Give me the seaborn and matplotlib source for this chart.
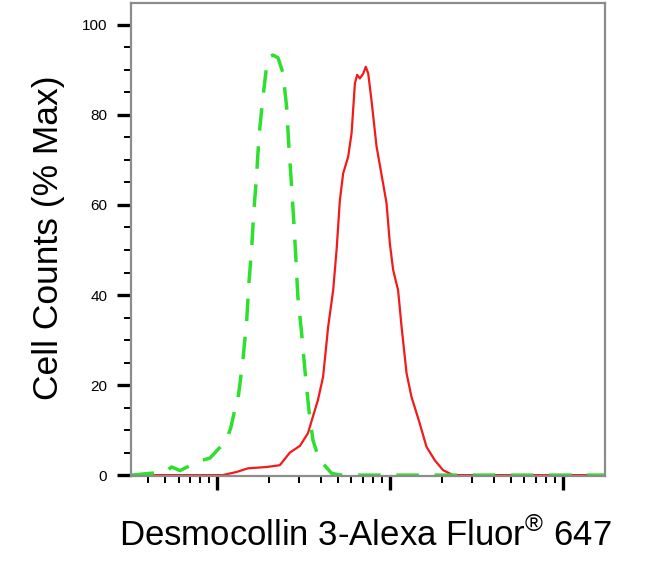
import numpy as np
import pandas as pd
import seaborn as sns
import matplotlib.pyplot as plt
from matplotlib.ticker import LogLocator, NullFormatter, MultipleLocator

# isotype / unstained control (green dashed)
ctrl_x = [32, 50, 54.7, 57.1, 61.1, 77.6, 91.2, 112.7, 120, 128.8, 132.1, 141.3, 148.6,
          153.1, 158.9, 163.7, 169.8, 175, 183.7, 193.6, 202.3, 210.9, 225.4, 241,
          252.9, 260.6, 270.4, 278.6, 286.4, 293.8, 309, 322.8, 340.4, 358.9, 393.6,
          410.2, 460.3, 520, 17500]
ctrl_y = [0, 0.7, 1.8, 1.5, 1.0, 3.0, 3.8, 7.6, 10.4, 15.6, 16.7, 25.5, 34.4,
          42.7, 50.7, 58.9, 67, 75.2, 83.3, 90.7, 93, 93.3, 92.7, 89.3,
          81.8, 73, 64, 56, 47.8, 39.6, 31.5, 23.3, 14.4, 7.8, 3.0,
          2.6, 0.4, 0, 0]

# Desmocollin 3 stained sample (red solid)
dsc3_x = [32, 108, 130, 151, 194, 231, 264, 302, 336, 359, 384, 411, 440, 470, 492,
          514, 537, 574, 601, 628, 647, 671, 702, 726, 750, 783, 838, 914, 957, 1000,
          1045, 1117, 1169, 1250, 1334, 1489, 1629, 1820, 2032, 2323, 17500]
dsc3_y = [0, 0, 0.7, 1.5, 1.8, 2.2, 5.0, 6.5, 9.3, 13, 16.7, 21.8, 33, 41, 50,
          61, 67, 70.7, 76, 87, 88.9, 88.1, 89.2, 90.7, 89.2, 83.3, 73, 64.8, 60.4, 51.5,
          45.6, 41, 33, 22.6, 17.4, 11.5, 6.3, 3.3, 1.1, 0, 0]

y_ticks = [0, 20, 40, 60, 80, 100]

df_ctrl = pd.DataFrame({"intensity": ctrl_x, "pct": ctrl_y})
df_dsc3 = pd.DataFrame({"intensity": dsc3_x, "pct": dsc3_y})

sns.set_theme(style="white")
plt.rcParams['font.family'] = ['Liberation Sans', 'DejaVu Sans']
plt.rcParams['mathtext.fontset'] = 'custom'
plt.rcParams['mathtext.rm'] = 'Liberation Sans'
for k in ["text.color", "axes.labelcolor", "xtick.color", "ytick.color"]:
    plt.rcParams[k] = "black"

fig = plt.figure(figsize=(6.58, 5.66), dpi=100)
ax = fig.add_axes([0.199, 0.159, 0.72, 0.836])

sns.lineplot(data=df_dsc3, x="intensity", y="pct", color="#f21a1a", linewidth=1.6,
             sort=False, ax=ax)
sns.lineplot(data=df_ctrl, x="intensity", y="pct", color="#2ee02e", linewidth=2.5,
             sort=False, ax=ax, linestyle=(0, (6.5, 4.5)), dash_capstyle="butt")

ax.set_xscale("log")
ax.set_xlim(31.8, 17500)
ax.set_ylim(-0.2, 104.9)

ax.xaxis.set_major_locator(LogLocator(base=10, numticks=10))
ax.xaxis.set_minor_locator(LogLocator(base=10, subs=np.arange(2, 10), numticks=10))
ax.xaxis.set_major_formatter(NullFormatter())
ax.xaxis.set_minor_formatter(NullFormatter())
ax.set_yticks(y_ticks)
ax.yaxis.set_minor_locator(MultipleLocator(5))

ax.tick_params(axis="both", which="major", direction="out", length=10, width=2.4,
               color="black", bottom=True, left=True)
ax.tick_params(axis="both", which="minor", direction="out", length=5, width=1.4,
               color="black", bottom=True, left=True)
ax.tick_params(axis="y", which="major", labelsize=11, pad=7)

for s in ax.spines.values():
    s.set_color("#8c8c8c")
    s.set_linewidth(1.6)

ax.set_xlabel(r"Desmocollin 3-Alexa Fluor$^{®}$ 647", fontsize=25)
ax.set_ylabel("Cell Counts (% Max)", fontsize=25.5)
ax.xaxis.set_label_coords(0.494, -0.088)
ax.yaxis.set_label_coords(-0.14, 0.503)

fig.savefig("out.png", dpi=100)
